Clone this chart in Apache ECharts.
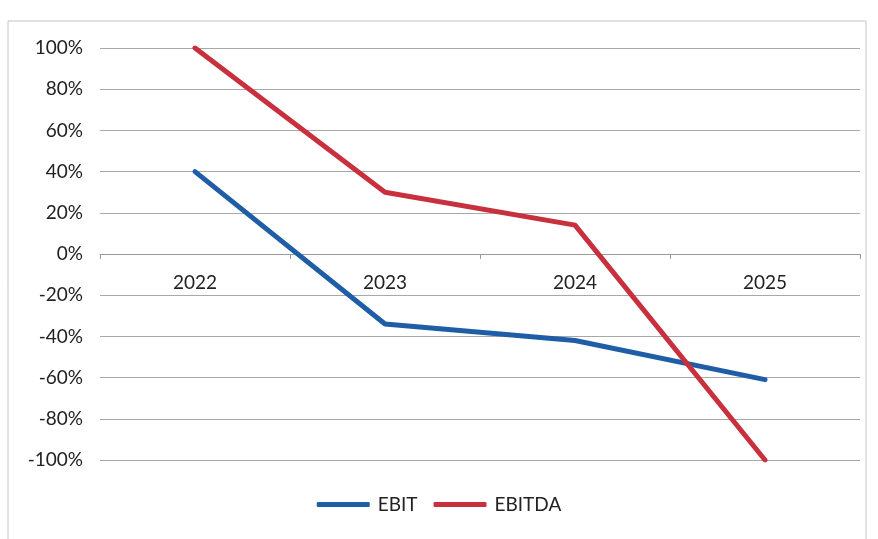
<!DOCTYPE html>
<html>
<head>
<meta charset="utf-8">
<script src="https://cdn.jsdelivr.net/npm/echarts@6/dist/echarts.min.js"></script>
<style>
  html, body { margin: 0; padding: 0; background: #fff; }
  #chart { width: 878px; height: 539px; }
</style>
</head>
<body>
<div id="chart"></div>
<script>
// values in percent
const years = ['2022', '2023', '2024', '2025']
const ebit = [40, -34, -42, -61]
const ebitda = [100, 30, 14, -100]

const font = 'Lato, "Open Sans", sans-serif'

const chart = echarts.init(document.getElementById('chart'))

chart.setOption({
  animation: false,
  backgroundColor: '#fff',
  textStyle: { fontFamily: font },
  graphic: [{
    type: 'rect',
    shape: { x: 8, y: 21, width: 858, height: 530 },
    style: { fill: 'none', stroke: '#c4c4c4', lineWidth: 1 },
    silent: true
  }],
  grid: {
    left: 100,
    right: 18,
    top: 48,
    bottom: 79
  },
  legend: {
    bottom: 20,
    left: 'center',
    icon: 'roundRect',
    itemWidth: 53,
    itemHeight: 5,
    itemGap: 16,
    textStyle: { color: '#222', fontSize: 19, fontFamily: font, padding: [0, 0, 0, 3] },
    data: ['EBIT', 'EBITDA']
  },
  xAxis: {
    type: 'category',
    data: years,
    boundaryGap: true,
    axisLine: { onZero: true, lineStyle: { color: '#9a9a9a', width: 1 } },
    axisTick: { show: true, length: 5, lineStyle: { color: '#9a9a9a' } },
    // labels sit just under the zero line, not at the grid bottom
    axisLabel: { color: '#222', fontSize: 19, margin: -187, fontFamily: font }
  },
  yAxis: {
    type: 'value',
    min: -100,
    max: 100,
    interval: 20,
    axisLine: { show: false },
    axisTick: { show: false },
    axisLabel: {
      formatter: '{value}%',
      color: '#222',
      fontSize: 19,
      margin: 17,
      fontFamily: font
    },
    splitLine: { lineStyle: { color: '#a8a8a8', width: 1 } }
  },
  series: [
    {
      name: 'EBIT',
      type: 'line',
      data: ebit,
      showSymbol: false,
      symbol: 'none',
      lineStyle: { color: '#1f5ea6', width: 5, cap: 'round', join: 'round' },
      itemStyle: { color: '#1f5ea6' }
    },
    {
      name: 'EBITDA',
      type: 'line',
      data: ebitda,
      showSymbol: false,
      symbol: 'none',
      lineStyle: { color: '#c8303e', width: 5, cap: 'round', join: 'round' },
      itemStyle: { color: '#c8303e' }
    }
  ]
})
</script>
</body>
</html>
